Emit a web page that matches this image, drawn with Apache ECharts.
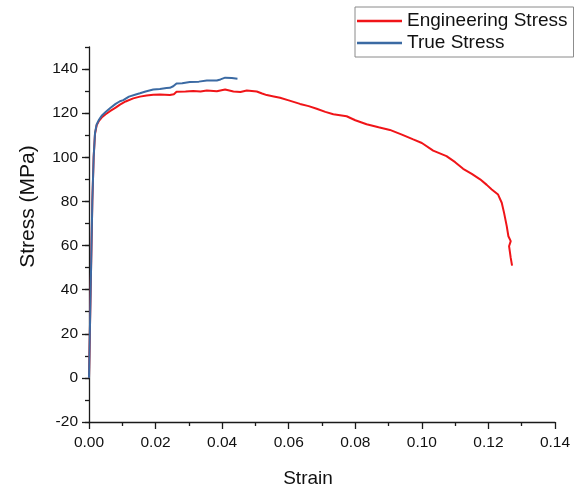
<!DOCTYPE html>
<html>
<head>
<meta charset="utf-8">
<script src="https://cdn.jsdelivr.net/npm/echarts@6/dist/echarts.min.js"></script>
<style>
html,body{margin:0;padding:0;background:#fff;}
#c{width:574px;height:489px;}
</style>
</head>
<body>
<div id="c"></div>
<script>
// Tick labels
var xTicks = [0, 0.02, 0.04, 0.06, 0.08, 0.10, 0.12, 0.14];
var yTicks = [-20, 0, 20, 40, 60, 80, 100, 120, 140];

// Engineering stress (strain, MPa)
var engStrain = [0, 0.0005, 0.001, 0.0014, 0.0018, 0.0023, 0.003, 0.0038, 0.005, 0.0063, 0.008, 0.0093, 0.011, 0.0133, 0.0153, 0.0173, 0.0193, 0.0213, 0.0243, 0.0255, 0.0263, 0.029, 0.0313, 0.0335, 0.0354, 0.0384, 0.0409, 0.0434, 0.0455, 0.0474, 0.0504, 0.052, 0.0534, 0.0555, 0.0574, 0.06, 0.0634, 0.066, 0.0684, 0.071, 0.0734, 0.0774, 0.08, 0.0834, 0.087, 0.0904, 0.094, 0.0974, 0.1, 0.1034, 0.1074, 0.11, 0.1124, 0.115, 0.1175, 0.1195, 0.121, 0.1229, 0.124, 0.1247, 0.1255, 0.126, 0.1267, 0.1262, 0.1267, 0.1271];
var engStress = [0, 40, 80, 100, 110.5, 114.5, 116.5, 118, 119.5, 120.9, 122.5, 123.9, 125.3, 126.7, 127.5, 128.0, 128.4, 128.5, 128.2, 128.6, 129.7, 129.8, 130.0, 129.8, 130.3, 129.9, 130.7, 129.8, 129.6, 130.3, 129.8, 128.9, 128.2, 127.6, 127.0, 125.8, 124.2, 123.2, 122.0, 120.6, 119.5, 118.6, 116.8, 115.0, 113.6, 112.4, 110.3, 108.1, 106.5, 103.0, 100.5, 97.8, 94.8, 92.5, 90.0, 87.5, 85.4, 83.1, 79.4, 74.8, 68.8, 64.2, 62.0, 59.7, 54.4, 50.9];

// True stress (strain, MPa)
var trueStrain = [0, 0.0005, 0.001, 0.0014, 0.0018, 0.0023, 0.003, 0.0038, 0.005, 0.0063, 0.008, 0.0093, 0.0103, 0.012, 0.0143, 0.0153, 0.017, 0.0193, 0.0213, 0.0233, 0.0243, 0.0253, 0.0263, 0.028, 0.0303, 0.033, 0.0354, 0.0384, 0.0395, 0.0409, 0.0429, 0.0446];
var trueStress = [0, 40, 80, 100, 111, 114.9, 117, 118.8, 120.5, 122.2, 124.2, 125.4, 125.9, 127.5, 128.6, 129.0, 129.8, 130.7, 131.0, 131.4, 131.5, 132.2, 133.5, 133.6, 134.1, 134.3, 134.8, 134.8, 135.3, 136.1, 135.9, 135.6];

function zip(a, b) { return a.map(function (v, i) { return [v, b[i]]; }); }

var chart = echarts.init(document.getElementById('c'), null, {renderer: 'canvas'});
var font = 'Liberation Sans, Arial, sans-serif';
var axisColor = '#1a1a1a';
chart.setOption({
  animation: false,
  backgroundColor: '#ffffff',
  textStyle: {fontFamily: font},
  grid: {left: 89, right: 19, top: 47, bottom: 67, containLabel: false, outerBoundsMode: 'none'},
  legend: {
    orient: 'vertical',
    left: 355,
    top: 7,
    padding: [4, 6, 4, 2],
    itemGap: 2,
    itemWidth: 45,
    itemHeight: 2.5,
    icon: 'rect',
    borderColor: '#8a8a8a',
    borderWidth: 1,
    borderRadius: 0,
    textStyle: {fontFamily: font, fontSize: 19, color: '#111', lineHeight: 20},
    data: ['Engineering Stress', 'True Stress']
  },
  xAxis: {
    type: 'value',
    min: 0,
    max: 0.14,
    interval: 0.02,
    name: 'Strain',
    nameLocation: 'middle',
    nameGap: 47,
    nameTextStyle: {fontFamily: font, fontSize: 19, color: '#111', padding: [0, 28, 0, 0]},
    axisLine: {show: true, onZero: false, lineStyle: {color: axisColor, width: 1.3}},
    axisTick: {show: true, length: 7, lineStyle: {color: axisColor, width: 1.3}},
    minorTick: {show: true, splitNumber: 2, length: 4, lineStyle: {color: axisColor, width: 1.3}},
    splitLine: {show: false},
    axisLabel: {
      fontFamily: font, fontSize: 15.5, color: '#111', margin: 13,
      customValues: xTicks,
      formatter: function (v) { return v.toFixed(2); }
    }
  },
  yAxis: [{
    type: 'value',
    position: 'left',
    min: -20,
    max: 150,
    interval: 20,
    name: 'Stress (MPa)',
    nameLocation: 'middle',
    nameGap: 50,
    nameTextStyle: {fontFamily: font, fontSize: 21, color: '#111', padding: [0, 0, 0, 56]},
    axisLine: {show: true, onZero: false, lineStyle: {color: axisColor, width: 1.3}},
    axisTick: {show: true, length: 7, customValues: yTicks, lineStyle: {color: axisColor, width: 1.3}},
    splitLine: {show: false},
    axisLabel: {
      fontFamily: font, fontSize: 15.5, color: '#111', margin: 11,
      customValues: yTicks,
      formatter: function (v) { return yTicks.indexOf(v) >= 0 ? String(v) : ''; }
    }
  }, {
    type: 'value',
    position: 'left',
    min: -20,
    max: 150,
    interval: 10,
    axisLine: {show: false},
    axisTick: {show: true, length: 4, lineStyle: {color: axisColor, width: 1.3}},
    axisLabel: {show: false},
    splitLine: {show: false}
  }],
  series: [{
    name: 'Engineering Stress',
    type: 'line',
    yAxisIndex: 0,
    showSymbol: false,
    symbol: 'none',
    color: '#f01418',
    lineStyle: {color: '#f01418', width: 2},
    data: zip(engStrain, engStress)
  }, {
    name: 'True Stress',
    type: 'line',
    yAxisIndex: 0,
    showSymbol: false,
    symbol: 'none',
    color: '#3b6aa3',
    lineStyle: {color: '#3b6aa3', width: 2},
    data: zip(trueStrain, trueStress)
  }]
});
</script>
</body>
</html>
